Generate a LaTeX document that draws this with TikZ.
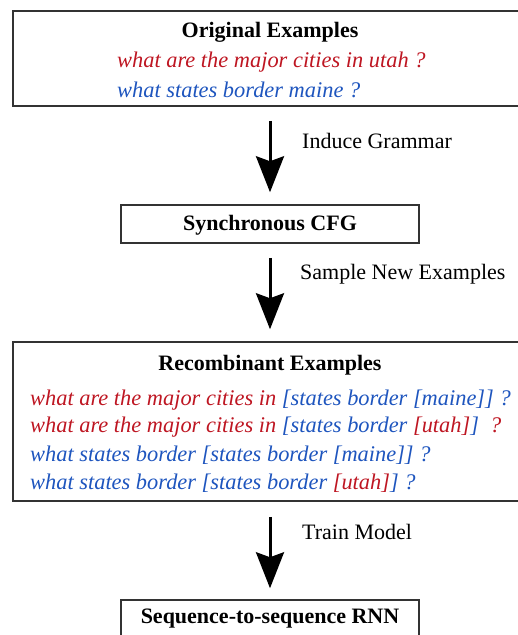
\documentclass[tikz,border=0pt]{standalone}
\usepackage{fontspec}
\setmainfont{Liberation Serif}
\usetikzlibrary{arrows.meta}
\usetikzlibrary{positioning}

\definecolor{exred}{RGB}{190,22,34}
\definecolor{exblue}{RGB}{30,85,190}

\tikzset{
  box/.style = {draw = black!80, line width = 1.5pt, inner sep = 0pt},
  title/.style = {font = \fontsize{22}{26}\selectfont\bfseries, inner sep = 0pt},
  ex/.style = {font = \fontsize{22.4}{26}\selectfont\itshape, anchor = west,
  inner sep = 0pt},
  lbl/.style = {font = \fontsize{22}{26}\selectfont, anchor = west,
  inner sep = 0pt},
  flow/.style = {line width = 3pt,
  -{Stealth[length = 36pt, width = 28pt, inset = 5pt]}}
}

\begin{document}
\begin{tikzpicture}
  \useasboundingbox (0, 0) rectangle (518pt, -635pt);

  % boxes
  \node[box, minimum width = 514pt, minimum height = 95pt] (orig)
  at (270pt, -58.5pt) {};
  \node[box, minimum width = 298pt, minimum height = 38pt] (cfg)
  at (270pt, -224pt) {};
  \node[box, minimum width = 514pt, minimum height = 159pt] (recomb)
  at (270pt, -421.5pt) {};
  \node[box, minimum width = 298pt, minimum height = 38pt] (rnn)
  at (270pt, -619pt) {};

  % texts
  \node[title] (origtitle) at (270pt, -32pt) {Original Examples};
  \node[ex, text = exred] (orig1) at (117pt, -62pt)
  {what are the major cities in utah ?};
  \node[ex, text = exblue] (orig2) at (117pt, -90pt)
  {what states border maine ?};
  \node[title] (cfgtitle) at (270pt, -225pt) {Synchronous CFG};
  \node[title] (recombtitle) at (270pt, -365pt) {Recombinant Examples};
  \node[ex] (rec1) at (30pt, -400pt) {\color{exred}what are the major cities
  in \color{exblue}[states border [maine]] ?};
  \node[ex] (rec2) at (30pt, -427pt) {\color{exred}what are the major cities
  in \color{exblue}[states border \color{exred}[utah]\color{exblue}]%
  \color{exred}\hspace{11pt}?};
  \node[ex, text = exblue] (rec3) at (30pt, -455pt)
  {what states border [states border [maine]] ?};
  \node[ex] (rec4) at (30pt, -483pt) {\color{exblue}what states border
  [states border \color{exred}[utah]\color{exblue}] ?};
  \node[title] (rnntitle) at (270pt, -619pt) {Sequence-to-sequence RNN};

  % arrows
  \draw[flow, shorten < = 14pt, shorten > = 12pt] (orig.south) -- (cfg.north);
  \draw[flow, shorten < = 14pt, shorten > = 12pt] (cfg.south) -- (recomb.north);
  \draw[flow, shorten < = 15pt, shorten > = 11pt] (recomb.south) -- (rnn.north);

  \node[lbl] (induce) at (302pt, -141pt) {Induce Grammar};
  \node[lbl] (sample) at (300pt, -274pt) {Sample New Examples};
  \node[lbl] (train) at (302pt, -532pt) {Train Model};
\end{tikzpicture}
\end{document}
